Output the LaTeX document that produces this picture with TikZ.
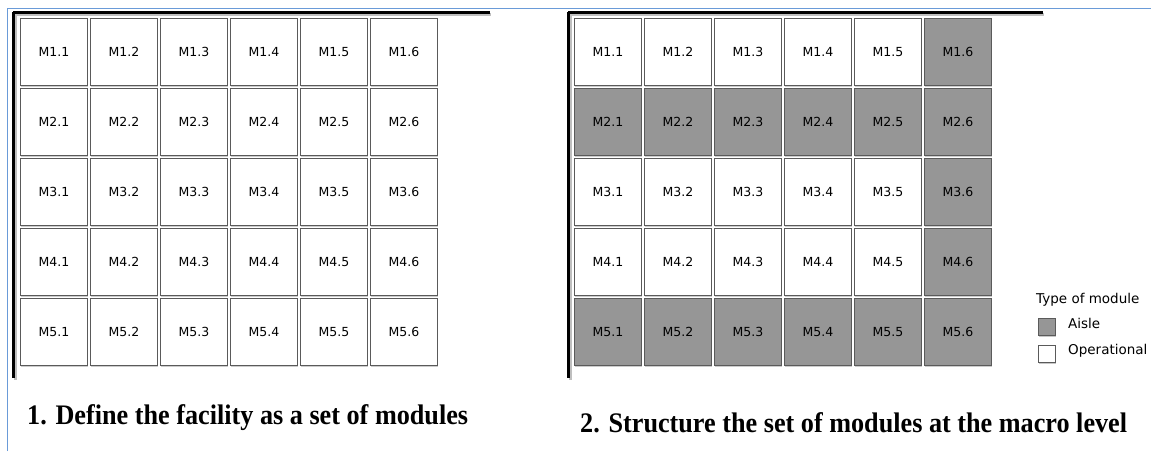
\documentclass[tikz,border=0pt]{standalone}
\usepackage{fontspec}
\setmainfont{Liberation Serif}
\newfontfamily\cellfont{DejaVu Sans}
\definecolor{aisle}{HTML}{969696}
\definecolor{frameblue}{HTML}{6A9BD8}
\definecolor{cellborder}{HTML}{5A5A5A}
\tikzset{
  cell/.style={draw=cellborder, line width=0.9pt, minimum width=67pt, minimum height=67pt, inner sep=0pt, anchor=north west, font=\cellfont\fontsize{12.5}{14}\selectfont},
  wall/.style={line width=3pt, black},
  legbox/.style={draw=cellborder, line width=0.9pt, minimum width=17pt, minimum height=17pt, inner sep=0pt, anchor=north west},
  legtext/.style={anchor=west, inner sep=0pt, font=\cellfont\fontsize{13.5}{15}\selectfont},
  title/.style={font=\bfseries\fontsize{26.2}{30}\selectfont, anchor=west, inner sep=0pt},
}
\begin{document}
\begin{tikzpicture}[x=1pt,y=-1pt]
\useasboundingbox (0,0) rectangle (1151,451);
% outer blue frame
\draw[frameblue, line width=1pt] (7.5,451) -- (7.5,8) -- (1151,8);
% walls with shadows
\foreach \x/\e in {13/490, 568/1043} {
  \fill[black!25] (\x+1,13) rectangle (\e+1,16);
  \fill[black!25] (\x+1,13) rectangle (\x+4,380);
  \draw[wall] (\x,12) -- (\e,12);
  \draw[wall] (\x,12) -- (\x,378);
}
% cells
\foreach \r in {1,...,5} {
  \foreach \c in {1,...,6} {
    \pgfmathsetmacro{\yy}{18+70*(\r-1)}
    \pgfmathsetmacro{\xl}{20+70*(\c-1)}
    \pgfmathsetmacro{\xr}{574+70*(\c-1)}
    \fill[black!20] (\xl+1,\yy+1.5) rectangle ++(67,67);
    \fill[black!20] (\xr+1,\yy+1.5) rectangle ++(67,67);
    \node[cell, fill=white] (L-\r-\c) at (\xl,\yy) {M\r.\c};
    \ifnum\c=6 \def\cf{aisle}\else\ifnum\r=2 \def\cf{aisle}\else\ifnum\r=5 \def\cf{aisle}\else\def\cf{white}\fi\fi\fi
    \node[cell, fill=\cf] (R-\r-\c) at (\xr,\yy) {M\r.\c};
  }
}
% legend
\node[legtext] (legtitle) at (1036,300) {Type of module};
\fill[black!22] (1039,319.5) rectangle ++(17,17);
\node[legbox, fill=aisle] (legA) at (1038,318) {};
\node[legtext] (legAt) at (1068,323) {Aisle};
\fill[black!22] (1039,346.5) rectangle ++(17,17);
\node[legbox, fill=white] (legO) at (1038,345) {};
\node[legtext] (legOt) at (1068,351) {Operational};
% titles
\node[title] (t1) at (27,418) {\scalebox{1}[1.08]{1. Define the facility as a set of modules}};
\node[title] (t2) at (580,423) {\scalebox{1}[1.08]{2. Structure the set of modules at the macro level}};
\end{tikzpicture}
\end{document}
